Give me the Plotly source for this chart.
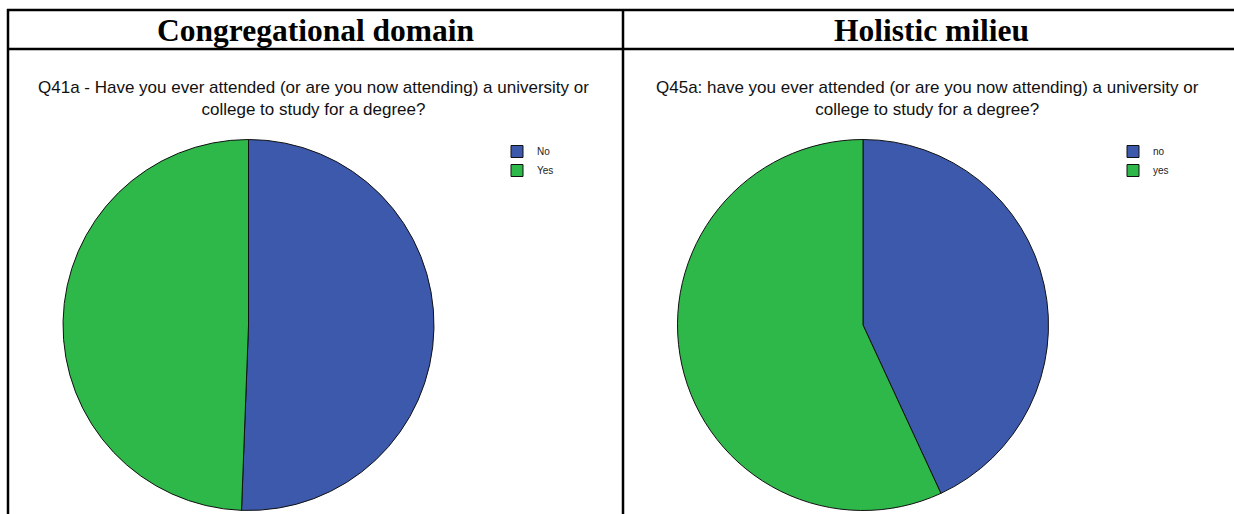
import plotly.graph_objects as go

W, H = 1234, 514

# Data
headers = ["Congregational domain", "Holistic milieu"]
titles = [
    "Q41a - Have you ever attended (or are you now attending) a university or<br>college to study for a degree?",
    "Q45a: have you ever attended (or are you now attending) a university or<br>college to study for a degree?",
]
labels_left = ["No", "Yes"]
values_left = [50.6, 49.4]
labels_right = ["no", "yes"]
values_right = [43.1, 56.9]

colors = ["#3d59ab", "#2fb84a"]


def px(x):
    return x / W


def py(y):
    return 1 - y / H


fig = go.Figure()


def dom(cx, cy, r):
    return dict(x=[px(cx - r), px(cx + r)], y=[py(cy + r), py(cy - r)])


fig.add_trace(go.Pie(
    labels=labels_left, values=values_left, sort=False, direction="clockwise",
    rotation=0, textinfo="none", hoverinfo="label+percent",
    marker=dict(colors=colors, line=dict(color="#111111", width=1)),
    domain=dom(248.5, 325, 185.5), legend="legend",
))
fig.add_trace(go.Pie(
    labels=labels_right, values=values_right, sort=False, direction="clockwise",
    rotation=0, textinfo="none", hoverinfo="label+percent",
    marker=dict(colors=colors, line=dict(color="#111111", width=1)),
    domain=dom(863, 325, 185.5), legend="legend2",
))

# table lines
lw = 2.5
shapes = [
    dict(type="line", x0=px(7), x1=1, y0=py(10), y1=py(10)),
    dict(type="line", x0=px(7), x1=1, y0=py(49), y1=py(49)),
    dict(type="line", x0=px(8), x1=px(8), y0=py(9), y1=0),
    dict(type="line", x0=px(623), x1=px(623), y0=py(9), y1=0),
]
for s in shapes:
    s.update(xref="paper", yref="paper", line=dict(color="black", width=lw))

annotations = []
for cx, h in zip([316, 931], headers):
    annotations.append(dict(
        x=px(cx), y=py(30), xref="paper", yref="paper", text="<b>%s</b>" % h,
        showarrow=False, xanchor="center", yanchor="middle",
        font=dict(family="Liberation Serif, Times New Roman, serif", size=31.5, color="black"),
    ))
for cx, t in zip([313, 927], titles):
    annotations.append(dict(
        x=px(cx), y=py(99), xref="paper", yref="paper", text=t,
        showarrow=False, xanchor="center", yanchor="middle", align="center",
        font=dict(family="Liberation Sans, Arial, sans-serif", size=17, color="#111111"),
    ))

legend_common = dict(
    font=dict(family="Liberation Sans, Arial, sans-serif", size=10, color="#222222"),
    bgcolor="rgba(0,0,0,0)", xanchor="left", yanchor="top",
    itemwidth=30, tracegroupgap=0,
)

fig.update_layout(
    width=W, height=H,
    margin=dict(l=0, r=0, t=0, b=0),
    paper_bgcolor="white", plot_bgcolor="white",
    shapes=shapes, annotations=annotations,
    showlegend=True,
    legend=dict(x=px(497), y=py(137), **legend_common),
    legend2=dict(x=px(1113), y=py(137), **legend_common),
)

fig.write_html(
    "out.html",
    config={"displayModeBar": False},
    post_script="document.body.style.margin='0';document.body.style.overflow='hidden';",
)
